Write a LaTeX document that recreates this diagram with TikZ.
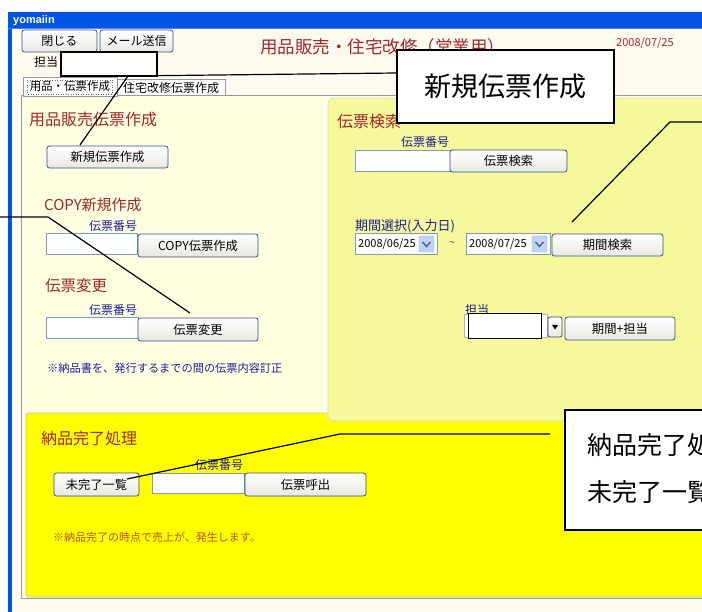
\documentclass[tikz,border=0pt]{standalone}
\usepackage{fontspec}
\setmainfont{Noto Sans CJK JP}
\newfontfamily\titlefont{Liberation Sans}
\usetikzlibrary{calc}
\newcommand\pxs[1]{\fontsize{#1}{#1}\selectfont}
\definecolor{xpblue}{RGB}{0,84,227}
\definecolor{winbg}{RGB}{255,251,240}
\definecolor{leftbg}{RGB}{255,255,225}
\definecolor{rightbg}{RGB}{245,249,155}
\definecolor{brightyel}{RGB}{255,255,0}
\definecolor{darkredt}{RGB}{160,40,40}
\definecolor{navyt}{RGB}{30,30,150}
\definecolor{notet}{RGB}{190,80,0}
\definecolor{btnborder}{RGB}{50,80,130}
\definecolor{btnbot}{RGB}{232,232,226}
\definecolor{tboxborder}{RGB}{127,157,185}
\definecolor{tabborder}{RGB}{145,155,156}
\definecolor{ddfill}{RGB}{193,211,251}
\definecolor{ddarrow}{RGB}{77,97,133}
\begin{document}
\begin{tikzpicture}[x=1pt,y=-1pt,
  btn/.style={draw=btnborder, rounded corners=2.5pt, top color=white, bottom color=btnbot, line width=0.8pt, inner sep=0pt, font=\pxs{12.3}, text=black},
  tbox/.style={draw=tboxborder, fill=white, line width=0.7pt, inner sep=0pt},
  blackbox/.style={draw=black, fill=white, line width=1.5pt, inner sep=0pt},
  lbl/.style={anchor=west, inner sep=0pt},
  redlbl/.style={lbl, text=darkredt},
  navylbl/.style={lbl, text=navyt, font=\pxs{12}},
  callout/.style={draw=black, fill=white, line width=1.3pt, inner sep=0pt},
  leader/.style={draw=black, line width=1.2pt},
  tabshape/.style={draw=tabborder, fill=white, line width=0.7pt, inner sep=0pt, font=\pxs{11.5}}
]
\useasboundingbox (0,0) rectangle (702,612);
\begin{scope}
\clip (0,0) rectangle (702,612);
% window
\fill[white] (0,0) rectangle (702,612);
\fill[winbg] (8,12) rectangle (702,612);
\fill[xpblue] (8,12) rectangle (702,28);
\fill[xpblue!70!white] (8,28) rectangle (702,29);
\fill[xpblue] (8,29) rectangle (12,612);
\node[lbl, text=white, font=\titlefont\bfseries\pxs{11}] (ttl) at (13,21) {yomaiin};
% tab control area
\fill[leftbg] (22,96) rectangle (702,598);
\draw[tabborder, line width=0.8pt] (21,95) -- (702,95);
\draw[tabborder, line width=0.8pt] (21,95) -- (21,598) -- (702,598);
% bright yellow panel
\draw[fill=brightyel, draw=black!25, line width=0.8pt, rounded corners=3pt] (26,413) rectangle (710,597);
% right panel
\draw[fill=rightbg, draw=black!15, line width=0.6pt, rounded corners=6pt] (328,98) rectangle (712,421);
% tabs
\node[tabshape, minimum width=108, minimum height=16, font=\pxs{12}] (tab2) at (171,87.5) {住宅改修伝票作成};
\node[tabshape, minimum width=94, minimum height=19] (tab1) at (70,86.5) {用品・伝票作成};
\draw[black!60, dotted, line width=0.5pt] (27,80) rectangle (112,94);
% top buttons
\node[btn, minimum width=75, minimum height=22, font=\pxs{12}] (bclose) at (59.5,41) {閉じる};
\node[btn, minimum width=73, minimum height=22, font=\pxs{12}] (bmail) at (136.5,41) {メール送信};
\node[lbl, font=\pxs{12}] (tanto) at (34,62) {担当};
\node[redlbl, font=\pxs{17.5}] (title) at (260,47) {用品販売・住宅改修（営業用）};
\node[redlbl, font=\pxs{11}] (date) at (616,43) {2008/07/25};
% left panel
\node[redlbl, font=\pxs{16}] (h1) at (29,119) {用品販売伝票作成};
\node[btn, minimum width=121, minimum height=22] (bnew) at (107.5,157) {新規伝票作成};
\node[redlbl, font=\pxs{15}] (h2) at (44,205) {COPY新規作成};
\node[navylbl] (n1) at (89,226) {伝票番号};
\node[tbox, minimum width=91, minimum height=21] (tcopy) at (91.5,243.5) {};
\node[btn, minimum width=120, minimum height=23] (bcopy) at (198,245.5) {COPY伝票作成};
\node[redlbl, font=\pxs{15.5}] (h3) at (45,286) {伝票変更};
\node[navylbl] (n2) at (89,310) {伝票番号};
\node[tbox, minimum width=92, minimum height=21] (tchg) at (92,327.5) {};
\node[btn, minimum width=120, minimum height=23] (bchg) at (198,329.5) {伝票変更};
\node[lbl, text=navyt, font=\pxs{11.2}] (note1) at (47,368) {※納品書を、発行するまでの間の伝票内容訂正};
% right panel
\node[redlbl, font=\pxs{16}] (h4) at (337,121) {伝票検索};
\node[navylbl] (n3) at (401,142) {伝票番号};
\node[tbox, minimum width=95, minimum height=21] (tsearch) at (402.5,160.5) {};
\node[btn, minimum width=117, minimum height=22] (bsearch) at (508.5,161) {伝票検索};
\node[lbl, text=navyt, font=\pxs{13}] (period) at (355,226) {期間選択(入力日)};
\node[tbox, minimum width=82, minimum height=21] (d1) at (396,243.5) {};
\node[lbl, font=\pxs{11}] (d1t) at (358,244) {2008/06/25};
\draw[fill=ddfill, draw=ddfill!80!black, line width=0.4pt, rounded corners=1.5pt] (419,236) rectangle (434,252);
\draw[ddarrow, line width=1.4pt] (422.5,242) -- (426.5,246.5) -- (430.5,242);
\node[lbl, font=\pxs{11}, text=black!70] (tilde) at (449,244) {\char"007E};
\node[tbox, minimum width=84, minimum height=21] (d2) at (508,243.5) {};
\node[lbl, font=\pxs{11}] (d2t) at (469,244) {2008/07/25};
\draw[fill=ddfill, draw=ddfill!80!black, line width=0.4pt, rounded corners=1.5pt] (532,236) rectangle (547,252);
\draw[ddarrow, line width=1.4pt] (535.5,242) -- (539.5,246.5) -- (543.5,242);
\node[btn, minimum width=111, minimum height=22] (bperiod) at (607.5,245) {期間検索};
\node[navylbl] (n4) at (465,310) {担当};
\node[tbox, draw=black!30, minimum width=83, minimum height=23] (combo) at (506,326) {};
\node[blackbox, minimum width=73, minimum height=25] (tantobox) at (505,326) {};
\node[btn, rounded corners=2pt, minimum width=14, minimum height=20] (ddbtn) at (555,327) {};
\fill[black] (552,325) -- (558,325) -- (555,329.5) -- cycle;
\node[btn, minimum width=110, minimum height=23] (bpt) at (620,328.5) {期間+担当};
% bright panel
\node[redlbl, font=\pxs{16}] (h5) at (41,438) {納品完了処理};
\node[navylbl] (n5) at (195,465) {伝票番号};
\node[btn, minimum width=85, minimum height=23] (bmikan) at (96.5,484.5) {未完了一覧};
\node[tbox, minimum width=92, minimum height=20] (tcall) at (198,483) {};
\node[btn, minimum width=121, minimum height=23] (bcall) at (305.5,484.5) {伝票呼出};
\node[lbl, text=notet, font=\pxs{11}] (note2) at (53,537) {※納品完了の時点で売上が、発生します。};
% top tanto white box
\node[blackbox, minimum width=96, minimum height=24] (topbox) at (109,64) {};
% leaders
\coordinate (k1) at (128,76);
\coordinate (k1e) at (80,145);
\coordinate (k2s) at (0,217);
\coordinate (k2) at (48,217);
\coordinate (k2e) at (190,313);
\coordinate (k3s) at (702,122);
\coordinate (k3) at (670,122);
\coordinate (k3e) at (572,222);
\coordinate (k4s) at (550,434);
\coordinate (k4) at (340,434);
\coordinate (k4e) at (127,479);
% callouts
\node[callout, minimum width=217, minimum height=73, font=\pxs{27}] (c1) at (505.5,86.5) {新規伝票作成};
\draw[leader] (c1.west |- 0,73) -- (k1) -- (k1e);
\draw[leader] (k2s) -- (k2) -- (k2e);
\draw[leader] (k3s) -- (k3) -- (k3e);
\draw[leader] (k4s) -- (k4) -- (k4e);
\node[callout, minimum width=150, minimum height=120] (c2) at (640,470) {};
\node[lbl, align=left, font=\fontsize{25}{47}\selectfont] (c2t) at (587,469) {納品完了処理\\未完了一覧};
\end{scope}
\end{tikzpicture}
\end{document}
